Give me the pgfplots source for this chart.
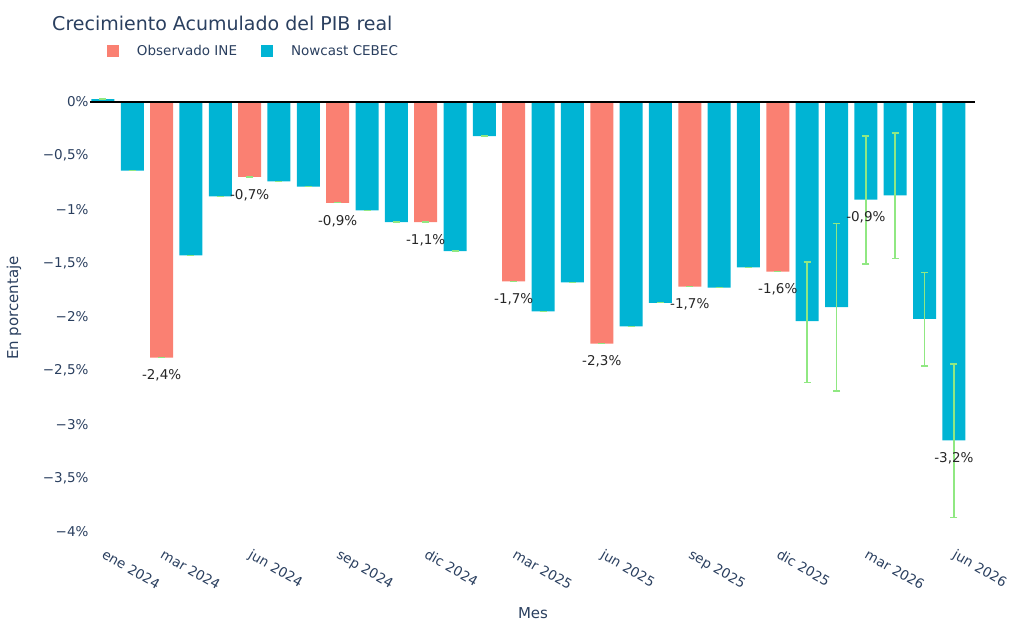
\documentclass[border=0pt]{standalone}
\usepackage{pgfplots}
\pgfplotsset{compat=1.18}
\usepackage{pgfplotstable}
\usepackage{fontspec}
\setmainfont{DejaVu Sans}
\definecolor{ine}{RGB}{250,128,114}
\definecolor{cebec}{RGB}{0,180,212}
\definecolor{errg}{RGB}{144,232,130}
\definecolor{navy}{HTML}{2A3F5F}

\pgfplotstableread{
x y ep em
0 0.025 0 0
1 -0.64 0 0
3 -1.43 0 0
4 -0.88 0 0
6 -0.74 0 0
7 -0.79 0 0
9 -1.01 0 0
10 -1.12 0 0
12 -1.39 0 0
13 -0.32 0 0
15 -1.95 0 0
16 -1.68 0 0
18 -2.09 0 0
19 -1.87 0 0
21 -1.73 0 0
22 -1.54 0 0
24 -2.04 0.55 0.57
25 -1.91 0.78 0.78
26 -0.91 0.59 0.60
27 -0.87 0.58 0.59
28 -2.02 0.43 0.44
29 -3.15 0.71 0.72
}\nowcast

\pgfplotstableread{
x y ep em
2 -2.38 0 0
5 -0.70 0 0
8 -0.94 0 0
11 -1.12 0 0
14 -1.67 0 0
17 -2.25 0 0
20 -1.72 0 0
23 -1.58 0 0
}\observado

\pgfplotstableread{
x y lab
2 -2.38 -2,4
5 -0.70 -0,7
8 -0.94 -0,9
11 -1.12 -1,1
14 -1.67 -1,7
17 -2.25 -2,3
20 -1.72 -1,7
23 -1.58 -1,6
26 -0.91 -0,9
29 -3.15 -3,2
}\labels

\begin{document}
\begin{tikzpicture}
\useasboundingbox (-90pt,-92.9pt) rectangle (934pt,537.1pt);
\begin{axis}[
  scale only axis, width=885pt, height=441.8pt,
  xmin=-0.44, xmax=29.72, ymin=-4.05, ymax=0.06,
  axis line style={draw=none}, major tick length=0pt,
  axis on top, clip=false,
  xtick={0,2,5,8,11,14,17,20,23,26,29},
  xticklabels={ene 2024,mar 2024,jun 2024,sep 2024,dic 2024,mar 2025,jun 2025,sep 2025,dic 2025,mar 2026,jun 2026},
  ytick={-4,-3.5,-3,-2.5,-2,-1.5,-1,-0.5,0},
  yticklabels={{−4\%},{−3,5\%},{−3\%},{−2,5\%},{−2\%},{−1,5\%},{−1\%},{−0,5\%},{0\%}},
  tick label style={font=\fontsize{13.5}{16}\selectfont, text=navy},
  xticklabel style={rotate=-30, anchor=north west, yshift=-5pt, xshift=5pt},
  yticklabel style={xshift=2pt},
  extra y ticks={0}, extra y tick labels={},
  extra y tick style={grid=major, major grid style={black, line width=1.6pt}},
  xlabel={Mes}, ylabel={En porcentaje},
  label style={font=\fontsize{15}{18}\selectfont, text=navy},
  xlabel style={at={(axis description cs:0.5006,-0.1718)}, anchor=center},
  ylabel style={at={(axis description cs:-0.0859,0.5186)}, anchor=center},
  title={Crecimiento Acumulado del PIB real},
  title style={at={(axis description cs:-0.0429,1.1331)}, anchor=base west, font=\fontsize{19}{22}\selectfont, text=navy, inner sep=0pt},
  legend style={at={(axis description cs:0.0192,1.0992)}, anchor=west, draw=none, fill=none,
    inner sep=0pt, outer sep=0pt, legend columns=-1, font=\fontsize{13.5}{16}\selectfont, text=navy,
    nodes={inner sep=0pt},
    /tikz/every odd column/.append style={column sep=18pt},
    /tikz/every even column/.append style={column sep=24pt}},
  legend cell align=left,
]
\addplot[ybar, bar width=23pt, bar shift=0pt, fill=ine, draw=none,
  legend image code/.code={\fill[ine] (0pt,-6pt) rectangle (12pt,6pt);},
  error bars/.cd, y dir=both, y explicit,
  error bar style={errg, line width=1.6pt},
  error mark options={errg, rotate=90, line width=1.4pt, mark size=3.5pt}]
  table[x=x, y=y, y error plus=ep, y error minus=em] {\observado};
\addlegendentry{Observado INE}
\addplot[ybar, bar width=23pt, bar shift=0pt, fill=cebec, draw=none,
  legend image code/.code={\fill[cebec] (0pt,-6pt) rectangle (12pt,6pt);},
  error bars/.cd, y dir=both, y explicit,
  error bar style={errg, line width=1.6pt},
  error mark options={errg, rotate=90, line width=1.4pt, mark size=3.5pt}]
  table[x=x, y=y, y error plus=ep, y error minus=em] {\nowcast};
\addlegendentry{Nowcast CEBEC}
\addplot[draw=none, mark=none, forget plot,
  nodes near coords={\pgfplotspointmeta\%}, point meta=explicit symbolic,
  every node near coord/.append style={anchor=center, yshift=-18pt,
    font=\fontsize{13.5}{16}\selectfont, text=black!85}]
  table[x=x, y=y, meta=lab] {\labels};
\end{axis}
\end{tikzpicture}
\end{document}
